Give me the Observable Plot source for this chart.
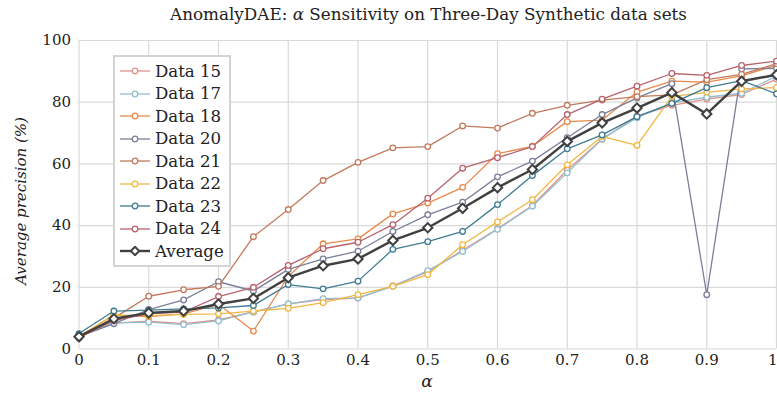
<!DOCTYPE html>
<html><head><meta charset="utf-8">
<script src="https://cdn.jsdelivr.net/npm/d3@7"></script>
<script src="https://cdn.jsdelivr.net/npm/@observablehq/plot@0.6"></script>
<style>
body{margin:0;background:#fff;}
#wrap{position:relative;width:777px;height:397px;overflow:hidden;font-family:"DejaVu Serif","Liberation Serif",serif;color:#222;}
#title{height:28px;line-height:28px;font-size:16.8px;text-align:center;padding-left:80px;box-sizing:border-box;white-space:nowrap;}
#xlabel{position:absolute;left:417px;top:371px;width:20px;text-align:center;font-size:17px;font-style:italic;}
#ylabel{position:absolute;left:21px;top:201px;transform:translate(-50%,-50%) rotate(-90deg);font-size:15px;font-style:italic;white-space:nowrap;}
#legend{position:absolute;left:113px;top:55px;width:118px;height:212px;box-sizing:border-box;border:2.5px solid #d4d4d4;background:#fff;padding-top:3px;}
.row{height:22.5px;display:flex;align-items:center;font-size:16.6px;white-space:nowrap;}
.row svg{margin-left:5px;margin-right:5px;}
svg text{font-family:"DejaVu Serif","Liberation Serif",serif;}
</style></head>
<body><div id="wrap">
<div id="title">AnomalyDAE: <i>α</i> Sensitivity on Three-Day Synthetic data sets</div>
<div id="chart"></div>
<div id="xlabel">α</div>
<div id="ylabel">Average precision (%)</div>
<div id="legend"></div>
</div>
<script>
const alphas = [0,0.05,0.1,0.15,0.2,0.25,0.3,0.35,0.4,0.45,0.5,0.55,0.6,0.65,0.7,0.75,0.8,0.85,0.9,0.95,1];
const xTicks = [0,0.1,0.2,0.3,0.4,0.5,0.6,0.7,0.8,0.9];
const xLastTick = [1];
const yTicks = [0,20,40,60,80,100];
const seriesNames = ["Data 15","Data 17","Data 18","Data 20","Data 21","Data 22","Data 23","Data 24","Average"];
const seriesColors = ["#e0928c","#92bfcf","#e88a4c","#7b7f99","#c27a5c","#f0b843","#3f7c94","#b7636d","#404040"];

const data15 = [4.2,8.4,9.0,8.2,9.4,12.0,14.6,16.0,16.5,20.5,25.0,32.0,39.0,46.5,58.0,68.0,75.5,79.0,81.0,82.5,87.5];
const data17 = [4.5,8.5,8.7,7.9,9.1,12.0,14.6,16.3,16.6,20.3,25.4,31.6,38.8,46.3,57.1,68.1,75.0,79.8,81.6,82.9,88.4];
const data18 = [4.0,11.0,10.5,11.4,14.5,5.8,23.5,34.1,35.7,43.8,47.3,52.4,63.3,65.7,73.7,74.2,83.3,86.8,86.5,88.5,92.0];
const data20 = [4.0,8.2,12.8,15.9,21.8,18.8,25.8,29.2,31.7,38.1,43.5,47.6,55.8,60.9,68.5,76.0,81.4,86.0,17.6,90.8,91.0];
const data21 = [3.5,10.0,17.1,19.2,20.3,36.4,45.2,54.6,60.5,65.2,65.6,72.3,71.6,76.4,79.0,80.7,81.8,82.4,87.3,89.0,92.5];
const data22 = [4.0,11.0,10.8,11.2,11.4,12.3,13.2,15.0,17.6,20.3,24.1,33.8,41.2,48.4,59.7,68.9,66.0,81.9,83.2,84.3,84.7];
const data23 = [5.0,12.3,12.6,13.0,13.3,14.1,20.9,19.5,22.0,32.3,34.8,38.1,46.8,56.2,64.9,69.4,75.3,79.6,84.7,87.0,82.7];
const data24 = [3.8,9.2,11.5,12.0,17.0,20.0,27.1,32.5,34.6,40.3,48.9,58.6,62.0,65.6,76.0,81.0,85.2,89.3,88.7,91.9,93.3];
const average = [4.0,9.8,11.7,12.3,14.6,16.4,23.1,27.0,29.2,35.2,39.3,45.6,52.3,58.2,67.3,73.3,78.1,83.1,76.2,86.8,88.9];

const seriesValues = [data15,data17,data18,data20,data21,data22,data23,data24,average];

const rows = [];
seriesNames.forEach((name,i)=>seriesValues[i].forEach((v,j)=>rows.push({name, alpha: alphas[j], value: v})));

const serif = "DejaVu Serif, Liberation Serif, serif";
const marks = [
  Plot.gridX(xTicks.concat(xLastTick),{stroke:"#d9d9d9",strokeOpacity:1,strokeWidth:1.2}),
  Plot.gridY(yTicks,{stroke:"#d9d9d9",strokeOpacity:1,strokeWidth:1.2}),
  Plot.axisX(xTicks,{tickSize:0,tickPadding:5,fontSize:15,label:null,tickFormat:d=>String(d)}),
  Plot.axisX(xLastTick,{tickSize:0,tickPadding:5,fontSize:15,label:null,textAnchor:"end",dx:1,tickFormat:d=>String(d)}),
  Plot.axisY(yTicks,{tickSize:0,tickPadding:8,fontSize:15,label:null})
];
seriesNames.forEach((name,i)=>{
  const d = rows.filter(r=>r.name===name);
  const avg = name==="Average";
  marks.push(Plot.line(d,{x:"alpha",y:"value",stroke:seriesColors[i],strokeWidth:avg?2.4:1.3}));
  marks.push(Plot.dot(d,{x:"alpha",y:"value",symbol:avg?"diamond2":"circle",r:avg?4.2:2.8,fill:"white",stroke:seriesColors[i],strokeWidth:avg?2:1.3}));
});

const chart = Plot.plot({
  width:777,height:369,
  marginTop:12,marginBottom:48.5,marginLeft:78.5,marginRight:1,
  style:{fontFamily:serif,fontSize:"15px",background:"white",color:"#222"},
  x:{domain:[0,1]},
  y:{domain:[0,100]},
  marks
});
document.getElementById("chart").appendChild(chart);

const leg = document.getElementById("legend");
seriesNames.forEach((name,i)=>{
  const avg = name==="Average";
  const row = document.createElement("div");
  row.className="row";
  const sym = avg
    ? `<path d="M15,0.8 L19.2,5 L15,9.2 L10.8,5Z" fill="white" stroke="${seriesColors[i]}" stroke-width="2"/>`
    : `<circle cx="15" cy="5" r="2.8" fill="white" stroke="${seriesColors[i]}" stroke-width="1.3"/>`;
  row.innerHTML = `<svg width="30" height="10"><line x1="0" y1="5" x2="30" y2="5" stroke="${seriesColors[i]}" stroke-width="${avg?2.4:1.3}"/>${sym}</svg><span>${name}</span>`;
  leg.appendChild(row);
});
</script>
</body></html>
